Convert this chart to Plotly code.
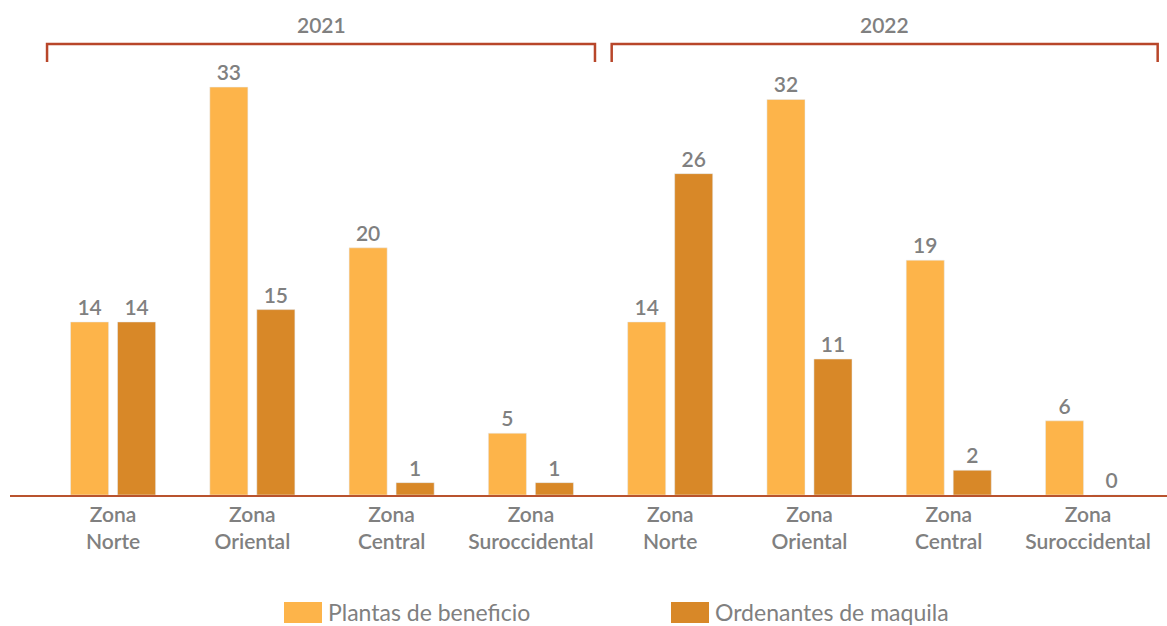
import plotly.graph_objects as go

years = ["2021", "2022"]
zones = ["Zona<br>Norte", "Zona<br>Oriental", "Zona<br>Central", "Zona<br>Suroccidental"]
tick_labels = zones + zones
series_names = ["Plantas de beneficio", "Ordenantes de maquila"]
plantas = [14, 33, 20, 5, 14, 32, 19, 6]
ordenantes = [14, 15, 1, 1, 26, 11, 2, 0]

colors = ["#FDB44A", "#D88828"]
text_color = "#808080"
font_family = "Lato, 'Open Sans', sans-serif"

x = list(range(len(tick_labels)))

fig = go.Figure()
for name, vals, col in zip(series_names, [plantas, ordenantes], colors):
    fig.add_trace(go.Bar(
        x=x, y=vals, name=name, marker_color=col,
        text=[str(v) for v in vals], textposition="outside",
        textfont=dict(size=21, color=text_color, family=font_family, weight=600),
        cliponaxis=False, showlegend=False,
    ))

W, H = 1167, 626
mt, mb = 60, 131
plot_h = H - mt - mb

def py(pix):
    return (H - mb - pix) / plot_h

shapes = []
annotations = []
# brackets for years
brackets = [(-0.474, 3.46), (3.58, 7.50)]
bc = "#B8462A"
for (x0, x1), yr in zip(brackets, years):
    shapes.append(dict(type="path", xref="x", yref="paper",
                       path=f"M {x0},{py(62)} L {x0},{py(44)} L {x1},{py(44)} L {x1},{py(62)}",
                       line=dict(color=bc, width=2.5)))
    annotations.append(dict(x=(x0 + x1) / 2, y=py(24), xref="x", yref="paper",
                            yanchor="middle", text=yr, showarrow=False,
                            font=dict(size=21, color=text_color, family=font_family, weight=600)))

# legend
leg = [(284, series_names[0], colors[0]), (671, series_names[1], colors[1])]
for px0, name, col in leg:
    shapes.append(dict(type="rect", xref="paper", yref="paper",
                       x0=px0 / W, x1=(px0 + 38) / W, y0=py(623), y1=py(602),
                       fillcolor=col, line=dict(width=0)))
    annotations.append(dict(x=(px0 + 42) / W, y=py(612), xref="paper", yref="paper",
                            xanchor="left", yanchor="middle", text=name, showarrow=False,
                            font=dict(size=23, color=text_color, family=font_family)))

fig.update_layout(
    width=W, height=H,
    margin=dict(l=0, r=0, t=mt, b=mb),
    plot_bgcolor="white", paper_bgcolor="white",
    barmode="group", bargap=0.325, bargroupgap=0.19,
    shapes=shapes, annotations=annotations,
    xaxis=dict(domain=[10 / W, 1], range=[-0.74, 7.567], tickvals=x, ticktext=tick_labels,
               showgrid=False, zeroline=False, showline=True, linecolor="#B9532E", linewidth=1.5,
               ticks="", tickfont=dict(size=21, color=text_color, family=font_family, weight=600)),
    yaxis=dict(range=[0, plot_h / 12.36], visible=False, showgrid=False, zeroline=False),
    font=dict(family=font_family),
)

fig.write_html("out.html", config={"displayModeBar": False},
               post_script="document.body.style.margin='0';")
